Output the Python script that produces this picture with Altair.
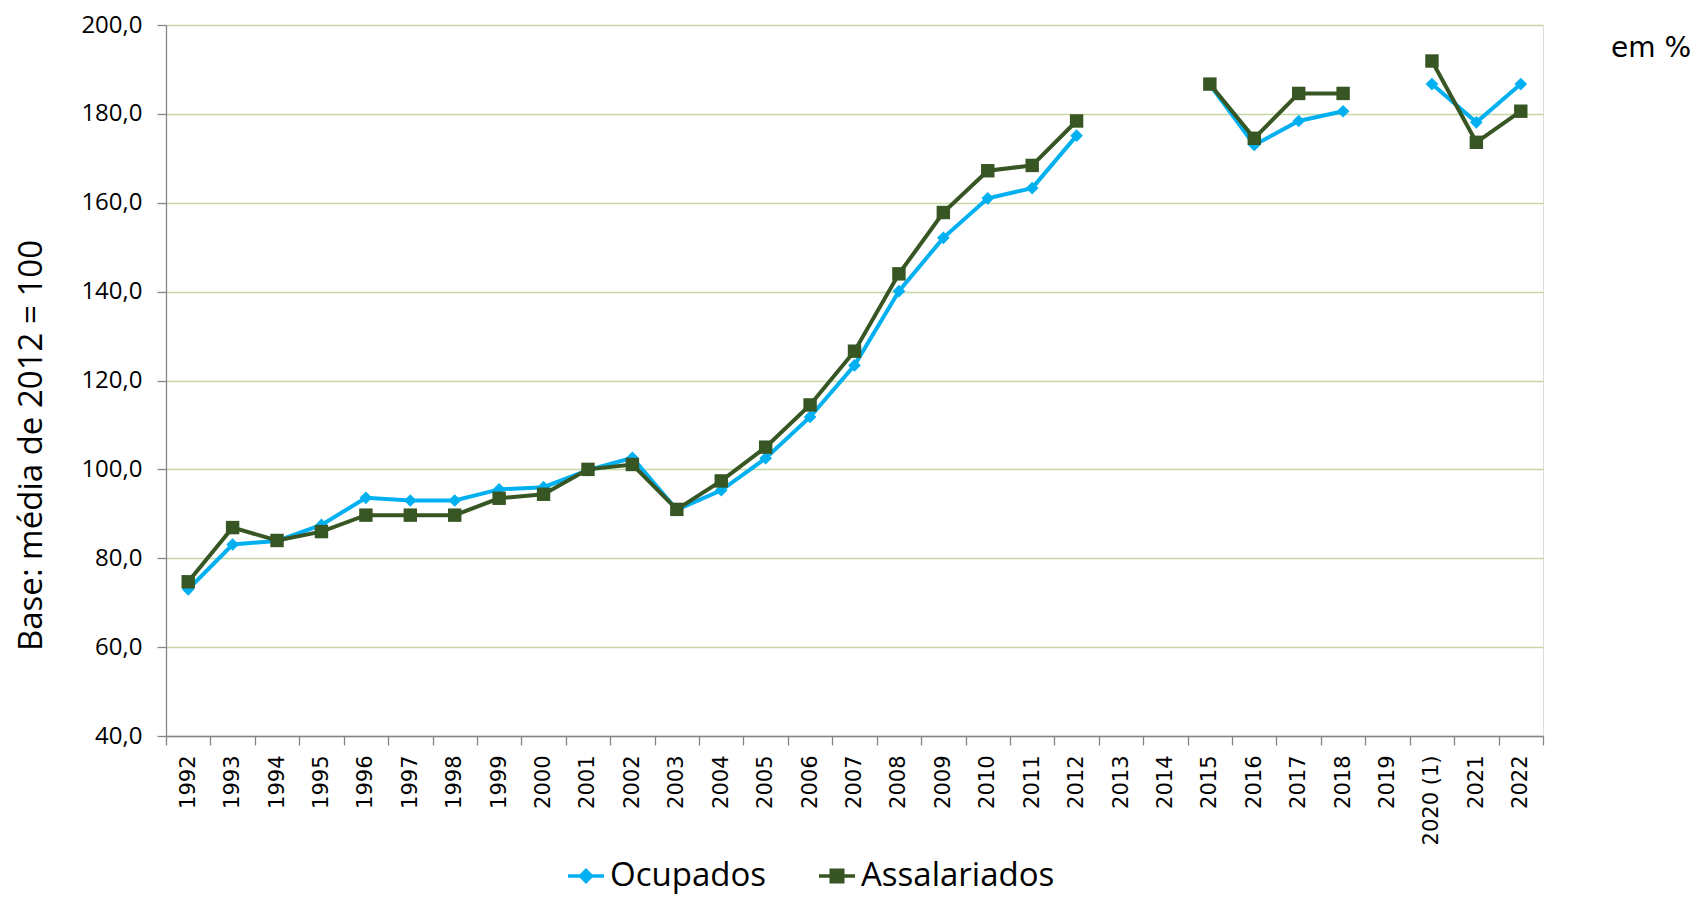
import altair as alt
import pandas as pd

years = ["1992", "1993", "1994", "1995", "1996", "1997", "1998", "1999", "2000",
         "2001", "2002", "2003", "2004", "2005", "2006", "2007", "2008", "2009",
         "2010", "2011", "2012", "2013", "2014", "2015", "2016", "2017", "2018",
         "2019", "2020 (1)", "2021", "2022"]
ocupados = [73.0, 83.1, 83.9, 87.5, 93.6, 93.0, 93.0, 95.5, 96.0,
            99.8, 102.6, 90.9, 95.3, 102.5, 111.8, 123.4, 140.1, 152.1,
            161.0, 163.3, 175.1, None, None, 186.6, 173.0, 178.4, 180.6,
            None, 186.7, 178.1, 186.7]
assalariados = [74.7, 86.9, 84.0, 86.0, 89.7, 89.7, 89.7, 93.5, 94.4,
                100.0, 101.1, 91.0, 97.4, 105.0, 114.5, 126.6, 144.0, 157.8,
                167.2, 168.4, 178.4, None, None, 186.7, 174.5, 184.6, 184.6,
                None, 191.9, 173.6, 180.6]
series_names = ["Ocupados", "Assalariados"]
series_colors = ["#00B0F0", "#375623"]
y_ticks = [40, 60, 80, 100, 120, 140, 160, 180, 200]
y_title = "Base: média de 2012 = 100"
unit_note = "em %"

FONT = "Open Sans"

rows = []
for name, vals in zip(series_names, [ocupados, assalariados]):
    seg = 0
    gap = True
    for i, (yr, v) in enumerate(zip(years, vals)):
        if v is None:
            gap = True
            continue
        if gap:
            seg += 1
            gap = False
        rows.append({"ano": yr, "valor": v, "serie": name,
                     "seg": f"{name}-{seg}", "ordem": i})
df = pd.DataFrame(rows)

x_enc = alt.X("ano:N",
              scale=alt.Scale(type="band", domain=years, paddingInner=0, paddingOuter=0),
              axis=alt.Axis(title=None, labelAngle=270, labelAlign="right",
                            labelBaseline="middle", labelFont="DejaVu Sans", labelFontSize=21,
                            labelColor="#000000", labelPadding=10, tickBand="extent",
                            tickSize=9, tickColor="#868686", tickWidth=1.3,
                            domainColor="#868686", domainWidth=1.3, grid=False))
y_enc = alt.Y("valor:Q",
              scale=alt.Scale(domain=[40, 200], nice=False, zero=False),
              axis=alt.Axis(values=y_ticks,
                            labelExpr="replace(format(datum.value, '.1f'), '.', ',')",
                            labelFont=FONT, labelFontSize=24, labelColor="#000000",
                            labelPadding=15, tickSize=9, tickColor="#868686",
                            tickWidth=1.3, domainColor="#868686", domainWidth=1.3,
                            grid=True, gridColor="#C4D7A4", gridWidth=1.3,
                            title=y_title, titleFont=FONT, titleFontSize=33,
                            titleFontWeight="normal", titleColor="#000000",
                            titleAngle=270, titleAlign="center",
                            titleBaseline="middle", titleX=-135, titleY=420))

color_scale = alt.Scale(domain=series_names, range=series_colors)
diamond_path = "M-1,0L1,0M0,-0.3L0.3,0L0,0.3L-0.3,0Z"
square_path = "M-1,0L1,0M-0.32,-0.32L0.32,-0.32L0.32,0.32L-0.32,0.32Z"
legend = alt.Legend(title=None, orient="none", legendX=400, legendY=831,
                    direction="horizontal", labelFont=FONT, labelFontSize=33,
                    labelColor="#000000", labelLimit=500, symbolSize=1300,
                    symbolStrokeWidth=3.5, columnPadding=44, labelOffset=4, padding=0)

layers = []
for name, shape, size in zip(series_names, ["diamond", "square"], [160, 180]):
    sub = alt.Chart(df).transform_filter(alt.datum.serie == name)
    line = sub.mark_line(strokeWidth=4).encode(
        x=x_enc, y=y_enc, detail="seg:N", order="ordem:Q",
        color=alt.Color("serie:N", scale=color_scale, legend=legend))
    pts = sub.mark_point(shape=shape, filled=True, size=size, opacity=1).encode(
        x=x_enc, y=y_enc,
        color=alt.Color("serie:N", scale=color_scale, legend=legend))
    layers += [line, pts]

legend_layer = alt.Chart(df).transform_filter("false").mark_point(
    filled=False, strokeWidth=3.5).encode(
    x=x_enc, y=y_enc,
    color=alt.Color("serie:N", scale=color_scale, legend=legend),
    shape=alt.Shape("serie:N",
                    scale=alt.Scale(domain=series_names, range=[diamond_path, square_path]),
                    legend=legend))

note = alt.Chart(pd.DataFrame({"t": [unit_note]})).mark_text(
    align="right", baseline="middle", font="DejaVu Sans", fontSize=28,
    color="#000000").encode(text="t:N", x=alt.value(1525), y=alt.value(24))

chart = alt.layer(*layers, legend_layer, note).properties(
    width=1377, height=711,
    autosize=alt.AutoSizeParams(type="none"),
    padding={"left": 158, "top": 17, "right": 150, "bottom": 161},
).configure_view(stroke=None).configure(font=FONT)

chart.save("out.html", embed_options={"renderer": "svg", "actions": False})
